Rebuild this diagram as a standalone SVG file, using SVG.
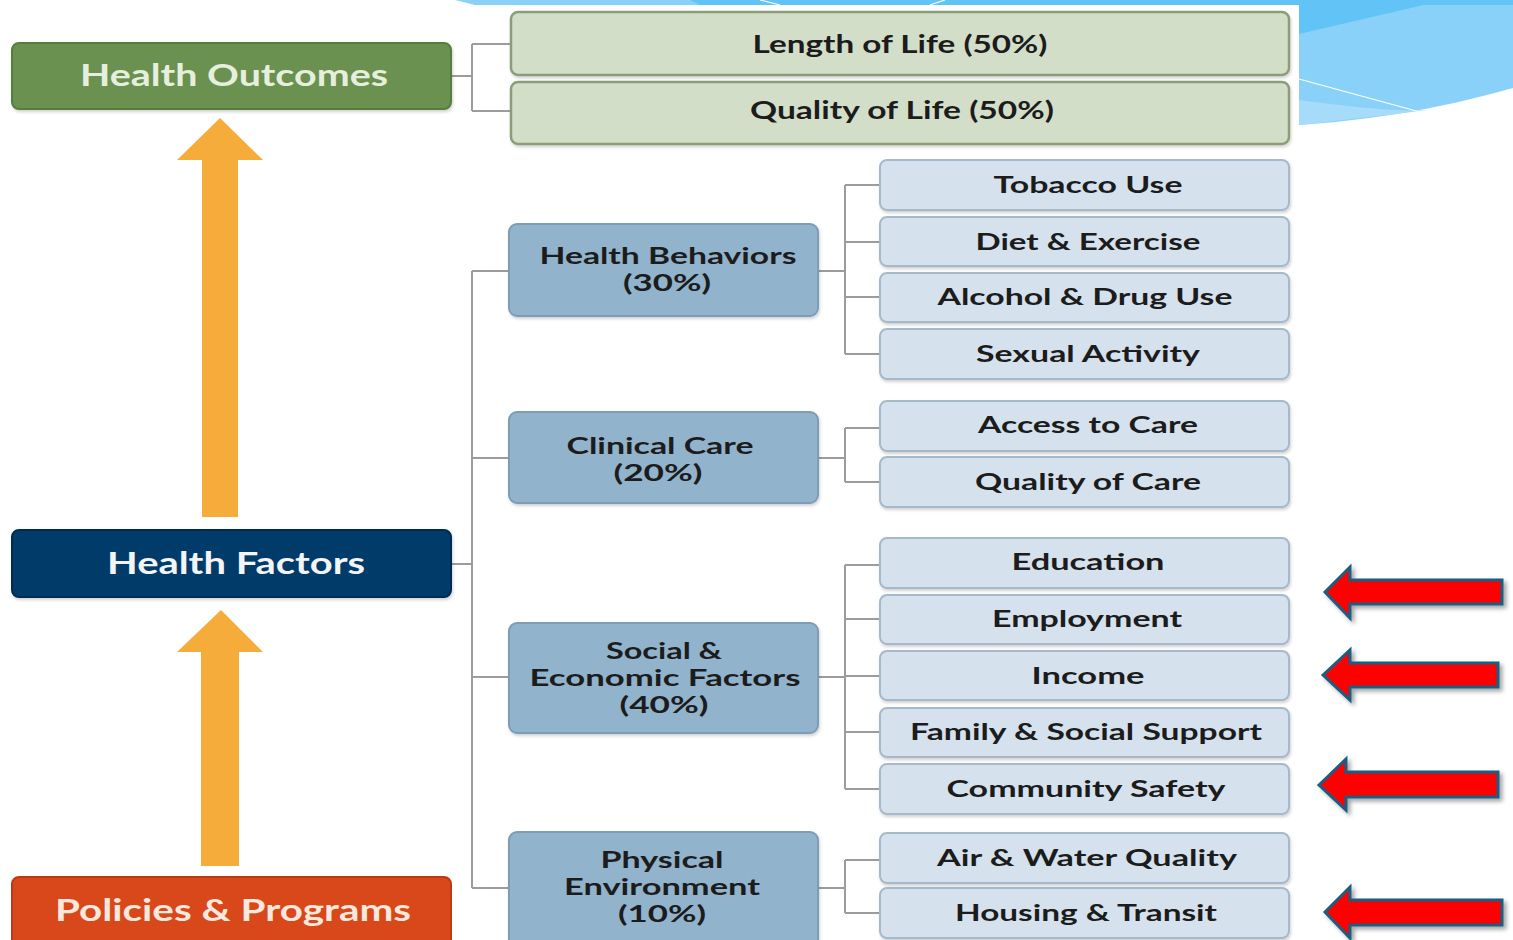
<svg xmlns="http://www.w3.org/2000/svg" width="1513" height="940" viewBox="0 0 1513 940">
<defs>
<style>
.t{font-family:Lato,"Open Sans","Liberation Sans",sans-serif;font-weight:bold;text-anchor:middle}
.big{font-size:30px}
.mid{font-size:23px;fill:#1c1c1c}
.leaf{font-size:23px;fill:#1c1c1c}
.out{font-size:24px;fill:#1c1c1c}
.conn{fill:none;stroke:#9c9c9c;stroke-width:2}
.obox{fill:#d3dec9;stroke:#8b9c79;stroke-width:2.5}
.mbox{fill:#91b3cc;stroke:#7d9db6;stroke-width:2}
.lbox{fill:#d5e2ed;stroke:#a6b9ca;stroke-width:2}
.oarrow{fill:#f5ac3a}
.rarrow{fill:#ff0000;stroke:#1d5d82;stroke-width:3;stroke-linejoin:miter}
</style>
<filter id="sh" x="-10%" y="-20%" width="130%" height="160%">
<feDropShadow dx="3" dy="3" stdDeviation="2" flood-color="#000" flood-opacity="0.35"/>
</filter>
<filter id="bs" x="-5%" y="-10%" width="110%" height="130%">
<feDropShadow dx="1" dy="2" stdDeviation="1.5" flood-color="#000" flood-opacity="0.18"/>
</filter>
</defs>
<rect width="1513" height="940" fill="#ffffff"/>
<g id="background">
<path d="M455,0 L1513,0 L1513,88 C1470,100 1400,118 1299,125 L1299,5 L475,5 Z" fill="#8ad1fa"/>
<path d="M690,0 L1513,0 L1513,5 L700,5 Z" fill="#62c3f7"/>
<path d="M1299,0 L1445,0 L1299,34 Z" fill="#62c3f7"/>
<path d="M1299,100 C1360,108 1400,112 1430,110 L1299,125 Z" fill="#a6dcfa"/>
<path d="M1299,79 L1420,112" stroke="#ffffff" stroke-width="1.2"/>
<path d="M760,0 L780,5 M930,5 L945,0" stroke="#ffffff" stroke-width="1.2"/>
<rect x="0" y="5" width="1299" height="935" fill="#ffffff"/>
</g>
<g id="connectors">
<path class="conn" d="M451,76 H472 M472,44 V111 M472,44 H511 M472,111 H511"/>
<path class="conn" d="M451,564 H472 M472,271 V888 M472,271 H509 M472,458 H509 M472,677 H509 M472,888 H509"/>
<path class="conn" d="M818,271 H845 M845,185 V354 M845,185 H880 M845,242 H880 M845,297 H880 M845,354 H880"/>
<path class="conn" d="M818,458 H845 M845,428 V482 M845,428 H880 M845,482 H880"/>
<path class="conn" d="M818,677 H845 M845,565 V789 M845,565 H880 M845,619 H880 M845,676 H880 M845,732 H880 M845,789 H880"/>
<path class="conn" d="M818,888 H845 M845,860 V913 M845,860 H880 M845,913 H880"/>
</g>
<g id="orange-arrows">
<polygon class="oarrow" points="220,118 263,160 238,160 238,517 202,517 202,160 177,160"/>
<polygon class="oarrow" points="221,610 263,652 239,652 239,866 201,866 201,652 177,652"/>
</g>
<g id="health-outcomes">
<rect x="12" y="43" width="439" height="66" rx="7" fill="#6a914f" stroke="#567d3e" stroke-width="2" filter="url(#bs)"/>
<text class="t big" x="234" y="86" fill="#e6efdd" textLength="308" lengthAdjust="spacingAndGlyphs">Health Outcomes</text>
</g>
<g id="health-factors">
<rect x="12" y="530" width="439" height="67" rx="7" fill="#003a6b" stroke="#002c52" stroke-width="2" filter="url(#bs)"/>
<text class="t big" x="236" y="574" fill="#f2f4f6" textLength="258" lengthAdjust="spacingAndGlyphs">Health Factors</text>
</g>
<g id="policies-programs">
<rect x="12" y="877" width="439" height="75" rx="7" fill="#d9481a" stroke="#bb3a10" stroke-width="2"/>
<text class="t big" x="233" y="921" fill="#f8e8de" textLength="356" lengthAdjust="spacingAndGlyphs">Policies &amp; Programs</text>
</g>
<g id="length-of-life">
<rect class="obox" x="511" y="12" width="778" height="63" rx="7" filter="url(#bs)"/>
<text class="t out" x="900" y="53" textLength="295" lengthAdjust="spacingAndGlyphs">Length of Life (50%)</text>
</g>
<g id="quality-of-life">
<rect class="obox" x="511" y="82" width="778" height="62" rx="7" filter="url(#bs)"/>
<text class="t out" x="902" y="119" textLength="304" lengthAdjust="spacingAndGlyphs">Quality of Life (50%)</text>
</g>
<g id="health-behaviors">
<rect class="mbox" x="509" y="224" width="309" height="92" rx="8" filter="url(#bs)"/>
<text class="t mid" x="668" y="264" textLength="257" lengthAdjust="spacingAndGlyphs">Health Behaviors</text>
<text class="t mid" x="667" y="291" textLength="88" lengthAdjust="spacingAndGlyphs">(30%)</text>
</g>
<g id="clinical-care">
<rect class="mbox" x="509" y="412" width="309" height="91" rx="8" filter="url(#bs)"/>
<text class="t mid" x="660" y="454" textLength="187" lengthAdjust="spacingAndGlyphs">Clinical Care</text>
<text class="t mid" x="658" y="481" textLength="89" lengthAdjust="spacingAndGlyphs">(20%)</text>
</g>
<g id="social-economic">
<rect class="mbox" x="509" y="623" width="309" height="110" rx="8" filter="url(#bs)"/>
<text class="t mid" x="664" y="659" textLength="116" lengthAdjust="spacingAndGlyphs">Social &amp;</text>
<text class="t mid" x="665" y="686" textLength="271" lengthAdjust="spacingAndGlyphs">Economic Factors</text>
<text class="t mid" x="664" y="713" textLength="89" lengthAdjust="spacingAndGlyphs">(40%)</text>
</g>
<g id="physical-environment">
<rect class="mbox" x="509" y="832" width="309" height="120" rx="8" filter="url(#bs)"/>
<text class="t mid" x="662" y="868" textLength="123" lengthAdjust="spacingAndGlyphs">Physical</text>
<text class="t mid" x="662" y="895" textLength="196" lengthAdjust="spacingAndGlyphs">Environment</text>
<text class="t mid" x="662" y="922" textLength="88" lengthAdjust="spacingAndGlyphs">(10%)</text>
</g>
<g id="tobacco-use">
<rect class="lbox" x="880" y="160" width="409" height="50" rx="7" filter="url(#bs)"/>
<text class="t leaf" x="1088" y="193" textLength="189" lengthAdjust="spacingAndGlyphs">Tobacco Use</text>
</g>
<g id="diet-exercise">
<rect class="lbox" x="880" y="217" width="409" height="49" rx="7" filter="url(#bs)"/>
<text class="t leaf" x="1088" y="250" textLength="225" lengthAdjust="spacingAndGlyphs">Diet &amp; Exercise</text>
</g>
<g id="alcohol-drug-use">
<rect class="lbox" x="880" y="273" width="409" height="49" rx="7" filter="url(#bs)"/>
<text class="t leaf" x="1085" y="305" textLength="295" lengthAdjust="spacingAndGlyphs">Alcohol &amp; Drug Use</text>
</g>
<g id="sexual-activity">
<rect class="lbox" x="880" y="329" width="409" height="50" rx="7" filter="url(#bs)"/>
<text class="t leaf" x="1088" y="362" textLength="224" lengthAdjust="spacingAndGlyphs">Sexual Activity</text>
</g>
<g id="access-to-care">
<rect class="lbox" x="880" y="401" width="409" height="50" rx="7" filter="url(#bs)"/>
<text class="t leaf" x="1088" y="433" textLength="220" lengthAdjust="spacingAndGlyphs">Access to Care</text>
</g>
<g id="quality-of-care">
<rect class="lbox" x="880" y="457" width="409" height="50" rx="7" filter="url(#bs)"/>
<text class="t leaf" x="1088" y="490" textLength="226" lengthAdjust="spacingAndGlyphs">Quality of Care</text>
</g>
<g id="education">
<rect class="lbox" x="880" y="538" width="409" height="50" rx="7" filter="url(#bs)"/>
<text class="t leaf" x="1088" y="570" textLength="153" lengthAdjust="spacingAndGlyphs">Education</text>
</g>
<g id="employment">
<rect class="lbox" x="880" y="595" width="409" height="49" rx="7" filter="url(#bs)"/>
<text class="t leaf" x="1087" y="627" textLength="190" lengthAdjust="spacingAndGlyphs">Employment</text>
</g>
<g id="income">
<rect class="lbox" x="880" y="651" width="409" height="49" rx="7" filter="url(#bs)"/>
<text class="t leaf" x="1088" y="684" textLength="113" lengthAdjust="spacingAndGlyphs">Income</text>
</g>
<g id="family-social-support">
<rect class="lbox" x="880" y="708" width="409" height="49" rx="7" filter="url(#bs)"/>
<text class="t leaf" x="1086" y="740" textLength="352" lengthAdjust="spacingAndGlyphs">Family &amp; Social Support</text>
</g>
<g id="community-safety">
<rect class="lbox" x="880" y="764" width="409" height="50" rx="7" filter="url(#bs)"/>
<text class="t leaf" x="1086" y="797" textLength="279" lengthAdjust="spacingAndGlyphs">Community Safety</text>
</g>
<g id="air-water-quality">
<rect class="lbox" x="880" y="833" width="409" height="50" rx="7" filter="url(#bs)"/>
<text class="t leaf" x="1087" y="866" textLength="300" lengthAdjust="spacingAndGlyphs">Air &amp; Water Quality</text>
</g>
<g id="housing-transit">
<rect class="lbox" x="880" y="888" width="409" height="50" rx="7" filter="url(#bs)"/>
<text class="t leaf" x="1086" y="921" textLength="262" lengthAdjust="spacingAndGlyphs">Housing &amp; Transit</text>
</g>
<g id="red-arrows" filter="url(#sh)">
<polygon class="rarrow" points="1325,592 1350,567 1350,580 1502,580 1502,604 1350,604 1350,618"/>
<polygon class="rarrow" points="1323,675 1350,650 1350,663 1498,663 1498,687 1350,687 1350,700"/>
<polygon class="rarrow" points="1319,785 1346,759 1346,772 1498,772 1498,797 1346,797 1346,810"/>
<polygon class="rarrow" points="1325,912 1350,887 1350,900 1502,900 1502,925 1350,925 1350,938"/>
</g>
</svg>
